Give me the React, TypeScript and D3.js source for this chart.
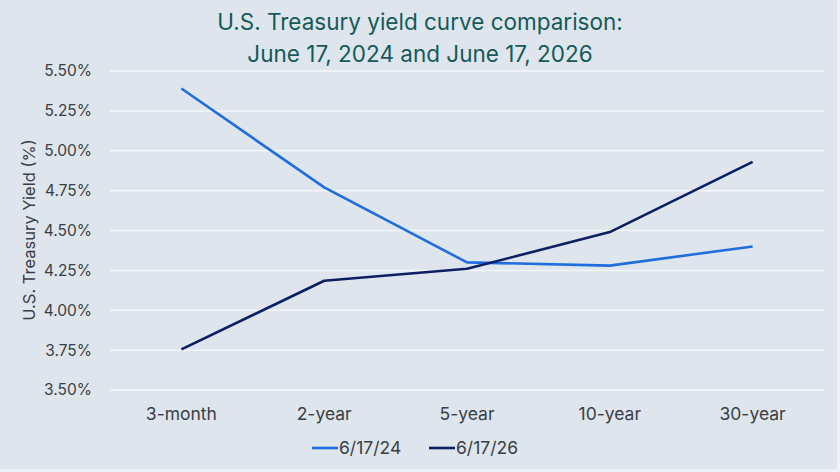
import React from "react";
import * as d3 from "d3";

const tenors = ["3-month", "2-year", "5-year", "10-year", "30-year"];
const yields2024 = [5.39, 4.77, 4.3, 4.28, 4.4];
const yields2026 = [3.755, 4.185, 4.26, 4.49, 4.93];
const yTicks = [3.5, 3.75, 4.0, 4.25, 4.5, 4.75, 5.0, 5.25, 5.5];
const seriesNames = ["6/17/24", "6/17/26"];
const seriesColors = ["#1f6ee0", "#0c1f63"];

const W = 840;
const H = 472;
const FONT = "Inter, 'Open Sans', sans-serif";

export default function App() {
  const x = d3.scaleBand<string>().domain(tenors).range([110, 824]);
  const y = d3.scaleLinear().domain([3.5, 5.5]).range([390, 71]);
  const line = d3
    .line<number>()
    .x((_, i) => (x(tenors[i]) as number) + x.bandwidth() / 2)
    .y((v) => y(v));
  const series = [yields2024, yields2026];

  return (
    <svg
      width={W}
      height={H}
      style={{ position: "absolute", left: 0, top: 0, fontFamily: FONT }}
    >
      <rect x={0} y={0} width={W} height={H} fill="#eef2f6" />
      <rect x={0} y={0} width={837} height={469} fill="#dee5ec" />

      <text x={420} y={30} textAnchor="middle" fontSize={22.5} fill="#145a5a">
        U.S. Treasury yield curve comparison:
      </text>
      <text x={420} y={62} textAnchor="middle" fontSize={22.5} fill="#145a5a">
        June 17, 2024 and June 17, 2026
      </text>

      {yTicks.map((t) => (
        <g key={t}>
          <line x1={110} x2={824} y1={y(t)} y2={y(t)} stroke="#f4f7fa" strokeWidth={1.5} />
          <text
            x={92}
            y={y(t)}
            dy="0.35em"
            textAnchor="end"
            fontSize={15.5}
            fill="#3a3f45"
          >
            {t.toFixed(2)}%
          </text>
        </g>
      ))}

      <text
        transform="translate(29,230) rotate(-90)"
        textAnchor="middle"
        dy="0.35em"
        fontSize={16.5}
        fill="#3a3f45"
      >
        U.S. Treasury Yield (%)
      </text>

      {tenors.map((c) => (
        <text
          key={c}
          x={(x(c) as number) + x.bandwidth() / 2}
          y={414}
          dy="0.35em"
          textAnchor="middle"
          fontSize={17.5}
          fill="#3a3f45"
        >
          {c}
        </text>
      ))}

      {series.map((s, i) => (
        <path
          key={i}
          d={line(s) || ""}
          fill="none"
          stroke={seriesColors[i]}
          strokeWidth={2.6}
          strokeLinejoin="round"
        />
      ))}

      {seriesNames.map((n, i) => {
        const lx = [312, 429][i];
        return (
          <g key={n}>
            <line x1={lx} x2={lx + 26} y1={448} y2={448} stroke={seriesColors[i]} strokeWidth={2.6} />
            <text x={lx + 27} y={448} dy="0.35em" fontSize={17.5} fill="#3a3f45">
              {n}
            </text>
          </g>
        );
      })}
    </svg>
  );
}
